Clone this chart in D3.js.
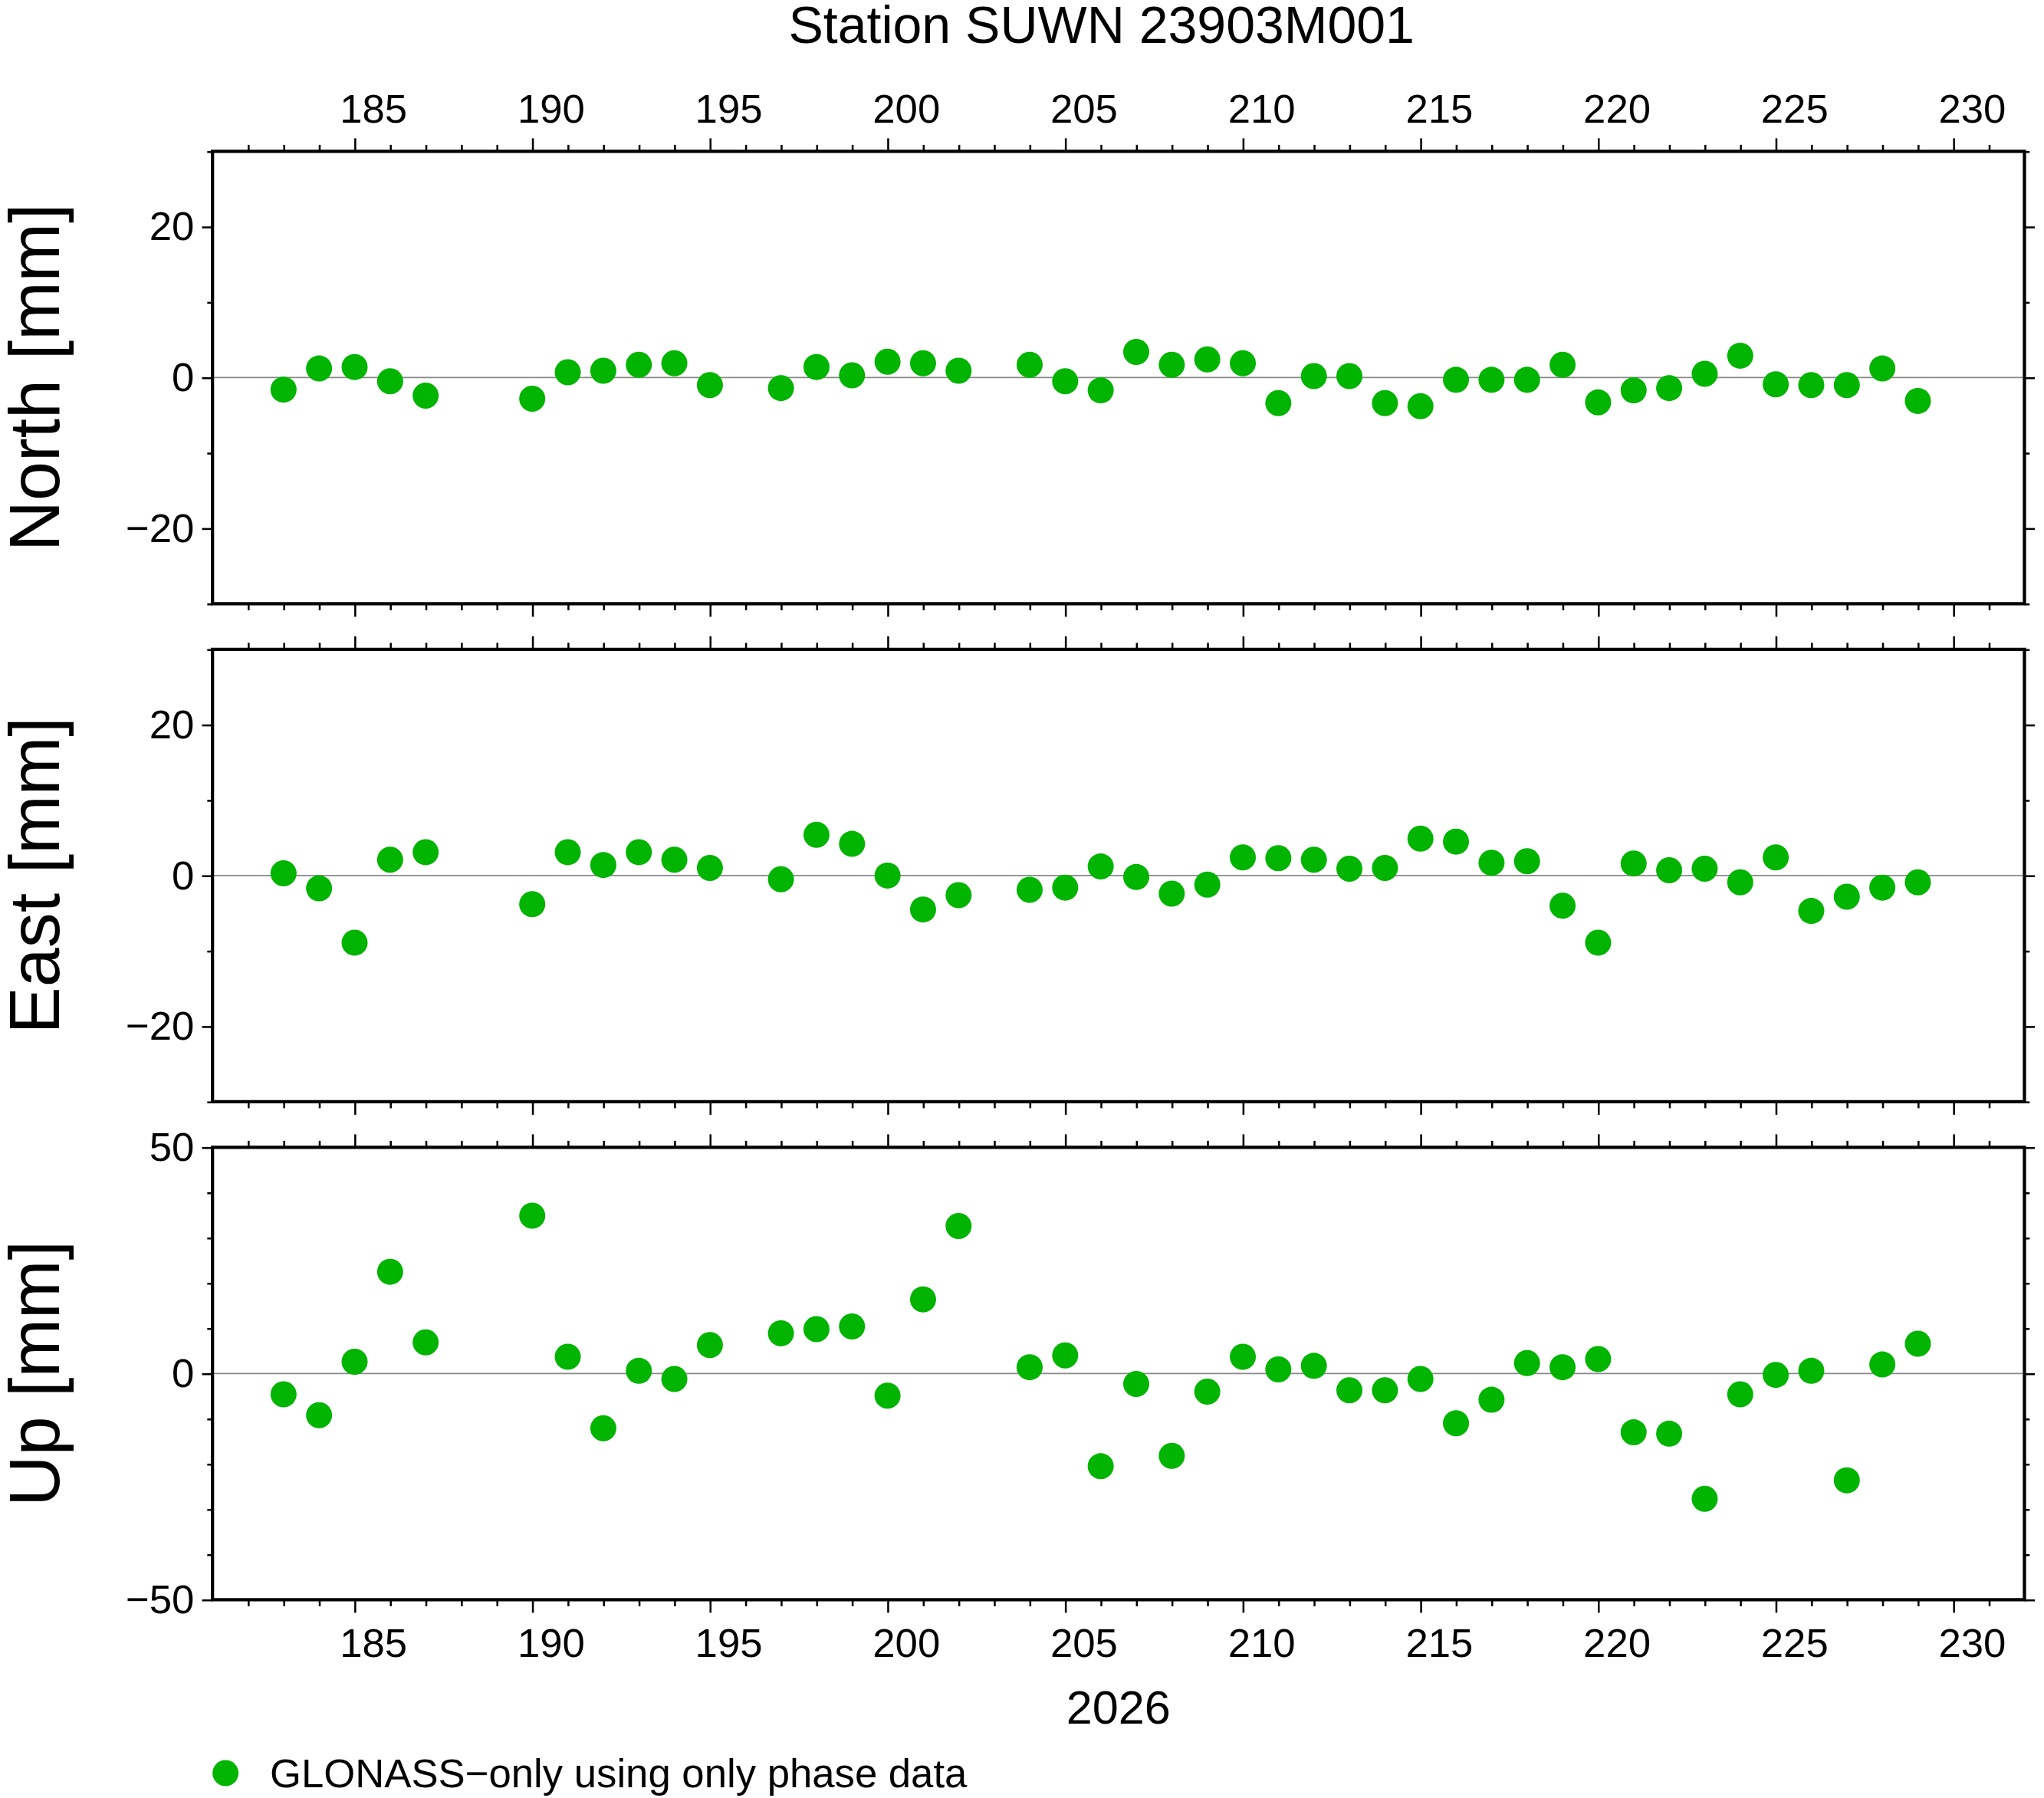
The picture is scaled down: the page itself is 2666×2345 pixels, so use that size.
<!DOCTYPE html>
<html><head><meta charset="utf-8">
<script src="https://cdn.jsdelivr.net/npm/d3@7"></script>
<style>body{margin:0;background:#fff}text{font-family:"Liberation Sans",Arial,sans-serif}</style>
</head><body>
<svg id="c" width="2666" height="2345" viewBox="0 0 1568 1379"></svg>
<script>
const days=[183,184,185,186,187,190,191,192,193,194,195,197,198,199,200,201,202,204,205,206,207,208,209,210,211,212,213,214,215,216,217,218,219,220,221,222,223,224,225,226,227,228,229];
const north=[-1.6,1.2,1.4,-0.5,-2.4,-2.8,0.7,0.9,1.7,1.9,-1,-1.4,1.4,0.3,2.1,1.9,0.9,1.7,-0.5,-1.7,3.4,1.7,2.4,1.9,-3.4,0.2,0.2,-3.4,-3.8,-0.3,-0.3,-0.3,1.7,-3.3,-1.7,-1.4,0.5,2.9,-0.9,-1,-1,1.2,-3.1];
const east=[0.3,-1.7,-8.9,2.1,3.1,-3.8,3.1,1.4,3.1,2.1,1,-0.5,5.4,4.2,0,-4.5,-2.6,-1.9,-1.6,1.2,-0.2,-2.4,-1.2,2.4,2.3,2.1,0.9,1,4.9,4.5,1.7,1.9,-4,-8.9,1.6,0.7,0.9,-0.9,2.4,-4.7,-2.8,-1.6,-0.9];
const up=[-4.6,-9.2,2.6,22.5,6.9,34.9,3.7,-12.1,0.6,-1.2,6.3,8.9,9.8,10.4,-4.9,16.4,32.6,1.4,4,-20.5,-2.3,-18.2,-4,3.7,0.9,1.7,-3.7,-3.7,-1.2,-11,-5.8,2.3,1.4,3.2,-13,-13.3,-27.7,-4.6,-0.3,0.6,-23.6,2,6.6];
const xTicks=[185,190,195,200,205,210,215,220,225,230];
const panels=[
 {label:"North [mm]",vals:north,dom:[-30,30],major:[-20,0,20],minorStep:10,top:116},
 {label:"East [mm]",vals:east,dom:[-30,30],major:[-20,0,20],minorStep:10,top:498},
 {label:"Up [mm]",vals:up,dom:[-50,50],major:[-50,0,50],minorStep:10,top:880}];
const svg=d3.select("#c"),L=163,R=1553,H=347,col="#00b400";
const x=d3.scaleLinear().domain([181,232]).range([L,R]);
const minorX=d3.range(182,232),minorXOnly=minorX.filter(d=>d%5);
svg.append("text").attr("x",845).attr("y",33).attr("text-anchor","middle").attr("font-size",40).text("Station SUWN 23903M001");
panels.forEach((p,i)=>{
 const g=svg.append("g").attr("transform",`translate(0,${p.top})`);
 const y=d3.scaleLinear().domain(p.dom).range([H,0]);
 const minorY=d3.range(p.dom[0],p.dom[1]+0.01,p.minorStep).filter(v=>!p.major.includes(v));
 g.append("line").attr("x1",L).attr("x2",R).attr("y1",y(0)).attr("y2",y(0)).attr("stroke","#888").attr("stroke-width",1);
 const ax=d3.axisTop(x).tickValues(xTicks).tickSize(10).tickFormat(i===0?d3.format("d"):"").tickPadding(12);
 const axm=d3.axisTop(x).tickValues(minorXOnly).tickSize(5).tickFormat("");
 const bx=d3.axisBottom(x).tickValues(xTicks).tickSize(10).tickFormat(i===2?d3.format("d"):"").tickPadding(12);
 const bxm=d3.axisBottom(x).tickValues(minorXOnly).tickSize(5).tickFormat("");
 [[ax,0],[axm,0],[bx,H],[bxm,H]].forEach(([a,t])=>{
  const gg=g.append("g").attr("transform",`translate(0,${t})`).call(a);
  gg.select(".domain").remove();gg.selectAll("line").attr("stroke","#000").attr("stroke-width",1.5);
  gg.selectAll("text").attr("font-size",31).attr("fill","#000").attr("dx",14).style("font-family","Liberation Sans,Arial");
 });
 const yl=d3.axisLeft(y).tickValues(p.major).tickSize(8).tickPadding(6).tickFormat(d=>d<0?"\u2212"+(-d):d);
 const ylm=d3.axisLeft(y).tickValues(minorY).tickSize(4).tickFormat("");
 const yr=d3.axisRight(y).tickValues(p.major).tickSize(8).tickFormat("");
 const yrm=d3.axisRight(y).tickValues(minorY).tickSize(4).tickFormat("");
 [[yl,L],[ylm,L],[yr,R],[yrm,R]].forEach(([a,t])=>{
  const gg=g.append("g").attr("transform",`translate(${t},0)`).call(a);
  gg.select(".domain").remove();gg.selectAll("line").attr("stroke","#000").attr("stroke-width",1.5);
  gg.selectAll("text").attr("font-size",31).attr("fill","#000").style("font-family","Liberation Sans,Arial");
 });
 g.append("rect").attr("x",L).attr("y",0).attr("width",R-L).attr("height",H).attr("fill","none").attr("stroke","#000").attr("stroke-width",2.5);
 g.selectAll("circle").data(days).join("circle").attr("cx",d=>x(d)).attr("cy",(d,j)=>y(p.vals[j])).attr("r",10).attr("fill",col);
 g.append("text").attr("transform",`translate(45,${H/2}) rotate(-90)`).attr("text-anchor","middle").attr("font-size",54).text(p.label);
});
svg.append("text").attr("x",858).attr("y",1322).attr("text-anchor","middle").attr("font-size",36).text("2026");
svg.append("circle").attr("cx",173).attr("cy",1360).attr("r",10).attr("fill",col);
svg.append("text").attr("x",207).attr("y",1371).attr("font-size",31).text("GLONASS\u2212only using only phase data");
</script></body></html>
